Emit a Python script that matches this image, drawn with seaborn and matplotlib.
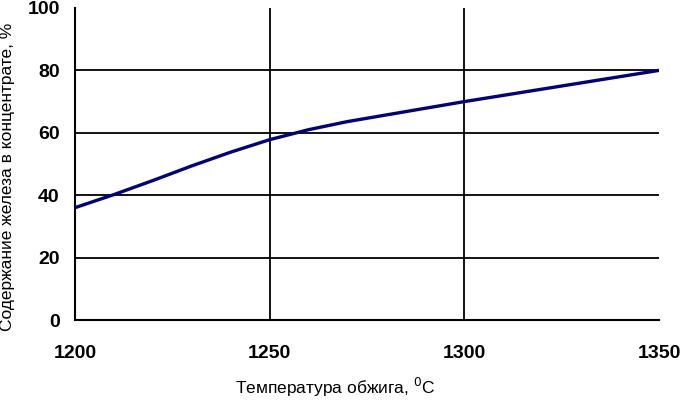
import pandas as pd
import seaborn as sns
import matplotlib.pyplot as plt

# Values
temperature = [1200, 1210, 1220, 1230, 1240, 1250, 1260, 1270, 1285, 1300, 1325, 1350]
iron_content = [36, 40.2, 44.7, 49.4, 53.8, 57.8, 61.0, 63.6, 66.8, 70, 75, 80]

x_ticks = [1200, 1250, 1300, 1350]
y_ticks = [0, 20, 40, 60, 80, 100]
x_grid = [1250, 1300]
y_grid = [20, 40, 60, 80]

x_label = "Температура обжига, $^0$C"
y_label = "Содержание железа в концентрате, %"

df = pd.DataFrame({"t": temperature, "fe": iron_content})

sns.set_style("white")
plt.rcParams["font.family"] = ["Liberation Sans", "DejaVu Sans"]
plt.rcParams["text.color"] = "black"
plt.rcParams["axes.labelcolor"] = "black"

fig = plt.figure(figsize=(6.83, 4.04), dpi=100)
ax = fig.add_axes([0.1098, 0.2079, 0.855, 0.7723])

# gridlines only at the inner ticks, as in the reference
for g in y_grid:
    ax.axhline(g, color="black", linewidth=1.3, zorder=1)
for g in x_grid:
    ax.axvline(g, color="black", linewidth=1.3, zorder=1)

sns.lineplot(data=df, x="t", y="fe", ax=ax, color="#000080",
             linewidth=2.4, zorder=3)

ax.set_xlim(1200, 1350)
ax.set_ylim(0, 100)
ax.set_xticks(x_ticks)
ax.set_yticks(y_ticks)
ax.tick_params(axis="both", labelsize=14, width=1.5, color="black",
               labelcolor="black")
ax.tick_params(axis="x", direction="inout", length=8, pad=14)
ax.tick_params(axis="y", direction="out", length=4, pad=7)
for lab in ax.get_xticklabels() + ax.get_yticklabels():
    lab.set_fontweight("bold")

for side in ["top", "right"]:
    ax.spines[side].set_visible(False)
for side in ["left", "bottom"]:
    ax.spines[side].set_color("black")
    ax.spines[side].set_linewidth(1.5)

ax.set_xlabel(x_label, fontsize=12.5)
ax.set_ylabel(y_label, fontsize=12.5)
ax.xaxis.set_label_coords(0.445, -0.18)
ax.yaxis.set_label_coords(-0.102, 0.46)

fig.savefig("out.png", dpi=100)
plt.close(fig)
